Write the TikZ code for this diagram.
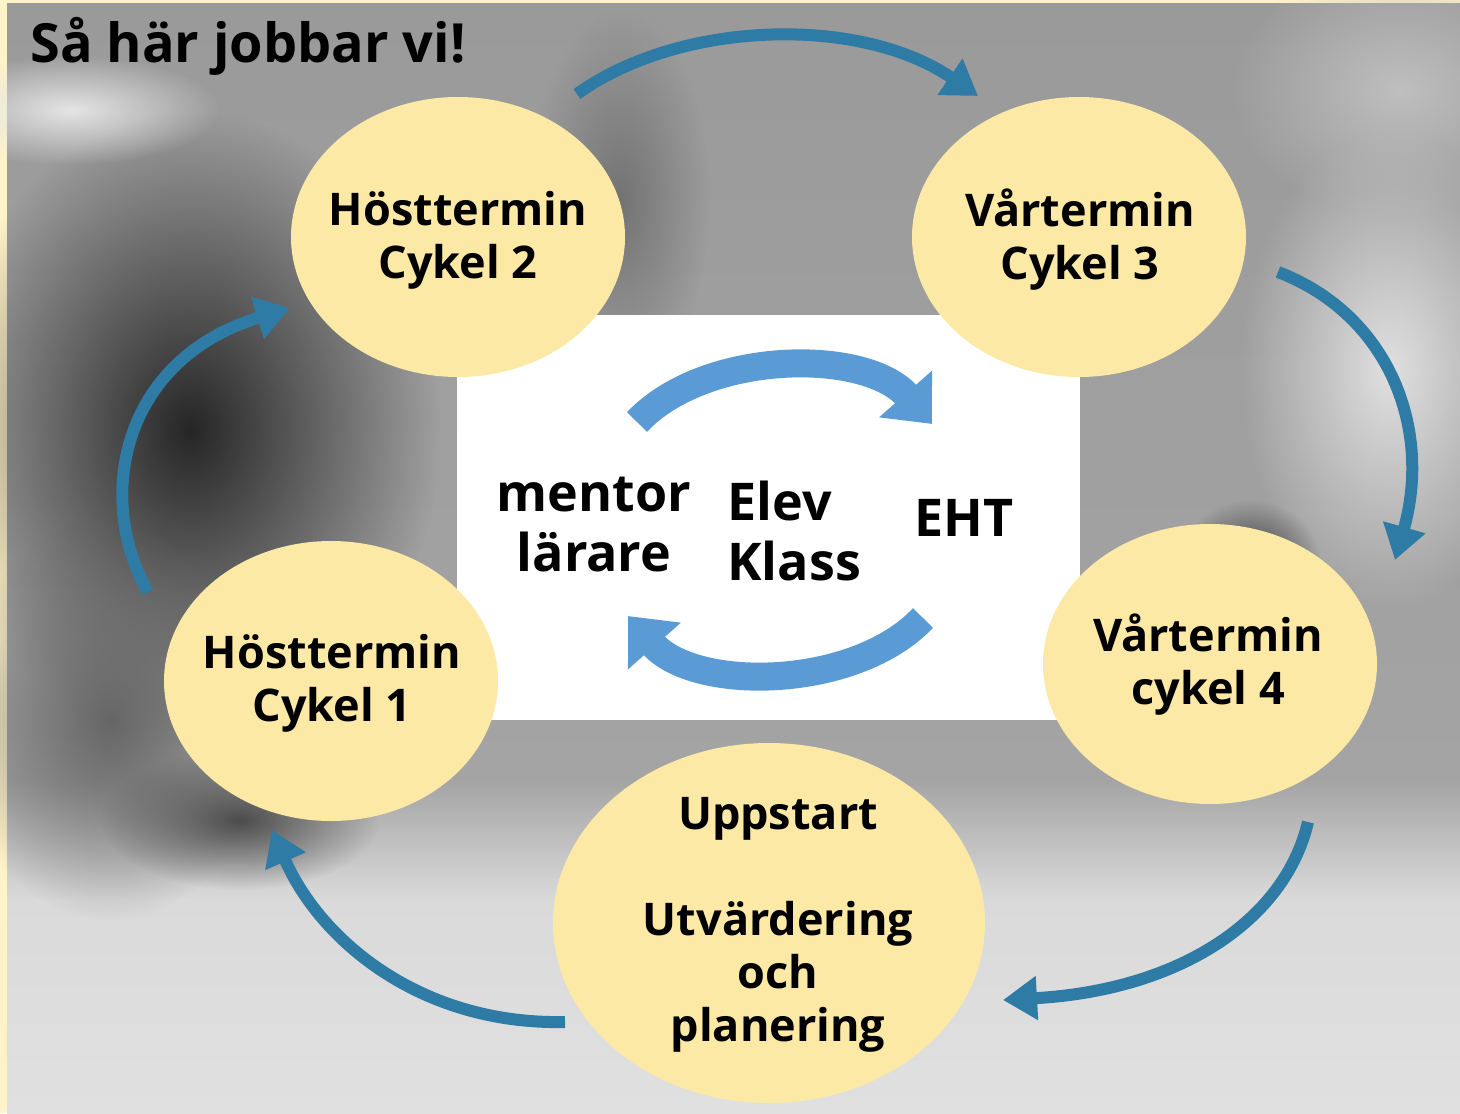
\documentclass[tikz,border=0pt]{standalone}
\usepackage{fontspec}
\setmainfont{Open Sans}
\usetikzlibrary{shapes.geometric,arrows.meta,fadings}
\definecolor{y1}{HTML}{FCE9A6}
\definecolor{y2}{HTML}{FFF3C8}
\definecolor{b1}{HTML}{2E7BA6}
\definecolor{b2}{HTML}{5B9BD5}
\definecolor{g1}{HTML}{9A9A9A}
\definecolor{g2}{HTML}{A4A4A4}
\definecolor{g3}{HTML}{DADADA}
\definecolor{g4}{HTML}{E0E0E0}
\tikzfading[name=softblob, inner color=transparent!0, outer color=transparent!100]

\begin{document}
\begin{tikzpicture}[x=0.5pt,y=-0.5pt,
	blob/.style={path fading=softblob},
	term/.style={ellipse,fill=y1,inner sep=0pt,minimum width=167pt,minimum height=140pt},
	termtext/.style={font=\bfseries\fontsize{22.5}{26.5}\selectfont,align=center,inner sep=0pt},
	midtext/.style={font=\bfseries\fontsize{26}{30}\selectfont,align=center,inner sep=0pt},
	roundarrow/.style={b1,line width=6pt,-{Triangle[length=17pt,width=21pt]}},
	midarrow/.style={b2,line width=14pt,-{Triangle[length=20pt,width=34pt]}}]

	% background photo, roughly
	\useasboundingbox (0,0) rectangle (1460,1113);
	\fill[y2] (0,0) rectangle (1460,1113);
	\shade[top color=g1,bottom color=g2] (7,4) rectangle (1460,780);
	\shade[top color=g2,bottom color=g3] (7,780) rectangle (1460,900);
	\shade[top color=g3,bottom color=g4] (7,900) rectangle (1460,1113);
	\fill[black!85,blob] (190,430) ellipse [x radius=250,y radius=320];
	\fill[black!60,blob] (110,720) ellipse [x radius=160,y radius=200];
	\fill[black!70,blob] (240,820) ellipse [x radius=140,y radius=70];
	\fill[white!90!black,blob] (70,110) ellipse [x radius=150,y radius=55];
	\fill[black!55,blob] (620,200) ellipse [x radius=90,y radius=190];
	\fill[white!88!black,blob] (1390,370) ellipse [x radius=150,y radius=240];
	\fill[black!75,blob] (1250,560) ellipse [x radius=70,y radius=60];
	\fill[black!25,blob] (1400,90) ellipse [x radius=170,y radius=130];

	\fill[white] (457,315) rectangle (1080,720);

	\node[font=\bfseries\fontsize{27}{30}\selectfont,anchor=base west,inner sep=0pt] (title) at (30,63) {Så här jobbar vi!};

	% the four terms and the start
	\node[term] (ht2) at (458,237) {};
	\node[term] (vt3) at (1079,237) {};
	\node[term] (ht1) at (331,681) {};
	\node[term] (vt4) at (1210,664) {};
	\node[term,minimum width=216pt,minimum height=180pt] (start) at (769,923) {};

	\node[termtext] (ht2t) at (458,240) {Hösttermin\\Cykel 2};
	\node[termtext] (vt3t) at (1080,240) {Vårtermin\\Cykel 3};
	\node[termtext] (ht1t) at (332,683) {Hösttermin\\Cykel 1};
	\node[termtext] (vt4t) at (1208,665) {Vårtermin\\cykel 4};
	\node[termtext] (startt) at (778,925) {Uppstart\\[26.5pt]Utvärdering\\och\\planering};

	% middle box
	\node[midtext] (staff) at (594,525) {mentor\\lärare};
	\node[midtext,align=left,anchor=west] (pupil) at (727,531) {Elev\\Klass};
	\node[midtext] (eht) at (964,518) {EHT};

	\coordinate (m1s) at (637,422);
	\coordinate (m1e) at (932,424);
	\coordinate (m2s) at (923,618);
	\coordinate (m2e) at (628,616);
	\draw[midarrow] (m1s) .. controls (705,350) and (865,348) .. (m1e);
	\draw[midarrow] (m2s) .. controls (855,690) and (695,692) .. (m2e);

	% the round
	\coordinate (a1s) at (577,94);
	\coordinate (a1e) at (978,96);
	\coordinate (a2s) at (1278,272);
	\coordinate (a2e) at (1395,560);
	\coordinate (a3s) at (1308,822);
	\coordinate (a3e) at (1003,1000);
	\coordinate (a4s) at (565,1022);
	\coordinate (a4e) at (272,830);
	\coordinate (a5s) at (148,592);
	\coordinate (a5e) at (290,308);
	\draw[roundarrow] (a1s) .. controls (680,20) and (860,15) .. (a1e);
	\draw[roundarrow] (a2s) .. controls (1390,315) and (1432,430) .. (a2e);
	\draw[roundarrow] (a3s) .. controls (1285,920) and (1180,990) .. (a3e);
	\draw[roundarrow] (a4s) .. controls (420,1025) and (320,940) .. (a4e);
	\draw[roundarrow] (a5s) .. controls (95,500) and (120,360) .. (a5e);
\end{tikzpicture}
\end{document}
